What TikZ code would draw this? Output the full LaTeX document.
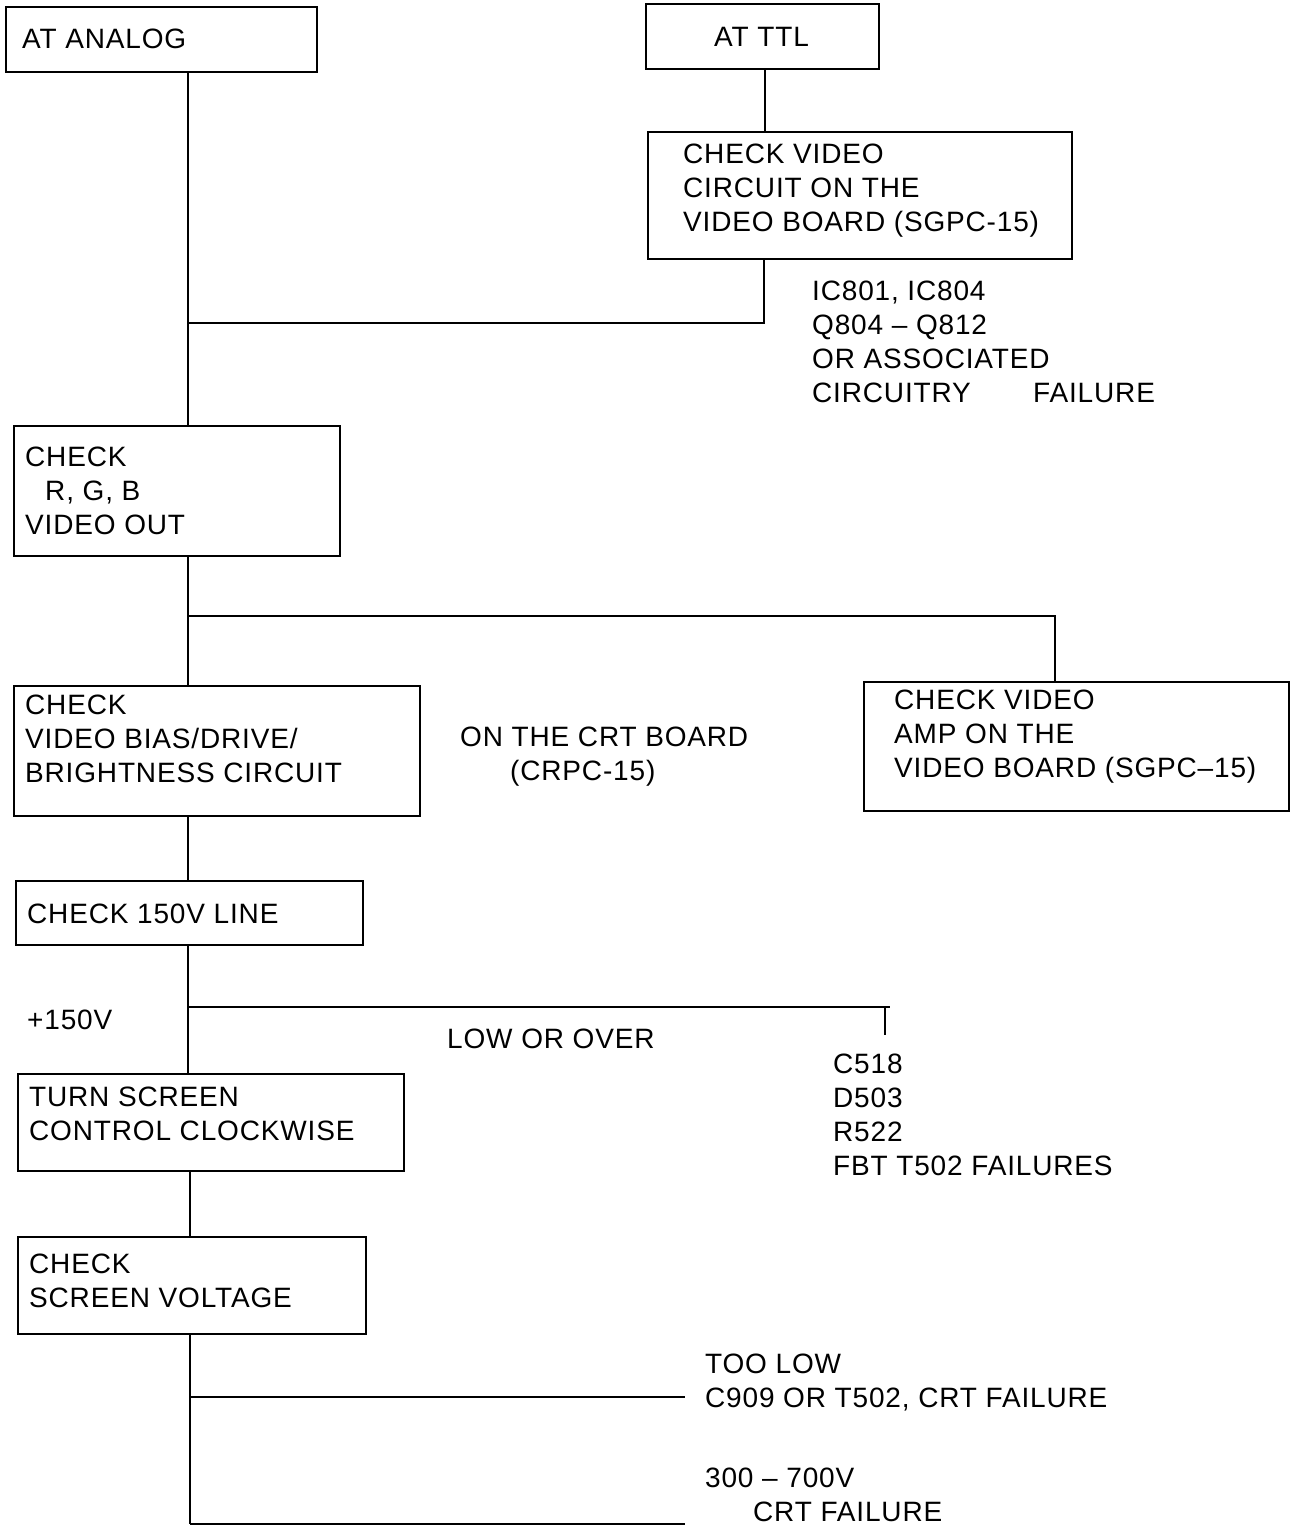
\documentclass[tikz,border=0pt]{standalone}
\usepackage{fontspec}
\setmainfont[LetterSpace=3]{Liberation Sans}
\begin{document}
\begin{tikzpicture}[x=1pt,y=-1pt,
  box/.style={draw, line width=1.6pt, inner sep=0pt, anchor=north west},
  txt/.style={inner sep=0pt, anchor=north west, align=left, font=\fontsize{28}{34}\selectfont},
  conn/.style={line width=1.6pt}]
\useasboundingbox (0,0) rectangle (1291,1527);
% boxes
\node[box, minimum width=311pt, minimum height=65pt] (analog) at (5,6) {};
\node[box, minimum width=233pt, minimum height=65pt] (ttl) at (645,3) {};
\node[box, minimum width=424pt, minimum height=127pt] (vcirc) at (647,131) {};
\node[box, minimum width=326pt, minimum height=130pt] (rgb) at (13,425) {};
\node[box, minimum width=406pt, minimum height=130pt] (bias) at (13,685) {};
\node[box, minimum width=425pt, minimum height=129pt] (amp) at (863,681) {};
\node[box, minimum width=347pt, minimum height=64pt] (v150) at (15,880) {};
\node[box, minimum width=386pt, minimum height=97pt] (turn) at (17,1073) {};
\node[box, minimum width=348pt, minimum height=97pt] (screen) at (17,1236) {};
% texts
\node[txt] (tanalog) at (22,24.2) {\strut AT ANALOG};
\node[txt] (tttl) at (714,22.2) {\strut AT TTL};
\node[txt] (tvcirc) at (683,139.2) {\strut CHECK VIDEO\\\strut CIRCUIT ON THE\\\strut VIDEO BOARD (SGPC-15)};
\node[txt] (tic) at (812,276.2) {\strut IC801, IC804\\\strut Q804 -- Q812\\\strut OR ASSOCIATED\\\strut \makebox[221pt][l]{CIRCUITRY}FAILURE};
\node[txt] (trgb) at (25,442.2) {\strut CHECK\\\strut\hspace*{20pt}R, G, B\\\strut VIDEO OUT};
\node[txt] (tbias) at (25,690.2) {\strut CHECK\\\strut VIDEO BIAS/DRIVE/\\\strut BRIGHTNESS CIRCUIT};
\node[txt] (tcrt) at (460,722.2) {\strut ON THE CRT BOARD\\\strut\hspace*{50pt}(CRPC-15)};
\node[txt] (tamp) at (894,685.2) {\strut CHECK VIDEO\\\strut AMP ON THE\\\strut VIDEO BOARD (SGPC--15)};
\node[txt] (tv150) at (27,899.2) {\strut CHECK 150V LINE};
\node[txt] (tplus) at (27,1005.2) {\strut +150V};
\node[txt] (tlow) at (447,1024.2) {\strut LOW OR OVER};
\node[txt] (tc518) at (833,1049.2) {\strut C518\\\strut D503\\\strut R522\\\strut FBT T502 FAILURES};
\node[txt] (tturn) at (29,1082.2) {\strut TURN SCREEN\\\strut CONTROL CLOCKWISE};
\node[txt] (tscreen) at (29,1249.2) {\strut CHECK\\\strut SCREEN VOLTAGE};
\node[txt] (ttoo) at (705,1349.2) {\strut TOO LOW\\\strut C909 OR T502, CRT FAILURE};
\node[txt] (t300) at (705,1463.2) {\strut 300 -- 700V\\\hspace*{48pt}CRT FAILURE};
% junction coordinates
\coordinate (xa) at (188,0);
\coordinate (xb) at (765,0);
\coordinate (xc) at (764,0);
\coordinate (xd) at (1055,0);
\coordinate (xe) at (190,0);
\coordinate (j1) at (188,323);
\coordinate (j2) at (188,616);
\coordinate (j3) at (188,1007);
\coordinate (tend) at (890,1007);
\coordinate (stub1) at (885,1007);
\coordinate (stub2) at (885,1035);
\coordinate (k1) at (190,1397);
\coordinate (k1e) at (685,1397);
\coordinate (k2) at (190,1524);
\coordinate (k2e) at (685,1524);
% connectors
\draw[conn] (analog.south -| xa) -- (rgb.north -| xa);
\draw[conn] (ttl.south -| xb) -- (vcirc.north -| xb);
\draw[conn] (vcirc.south -| xc) |- (j1);
\draw[conn] (rgb.south -| xa) -- (bias.north -| xa);
\draw[conn] (j2) -| (amp.north -| xd);
\draw[conn] (bias.south -| xa) -- (v150.north -| xa);
\draw[conn] (v150.south -| xa) -- (turn.north -| xa);
\draw[conn] (j3) -- (tend);
\draw[conn] (stub1) -- (stub2);
\draw[conn] (turn.south -| xe) -- (screen.north -| xe);
\draw[conn] (screen.south -| xe) -- (k2);
\draw[conn] (k1) -- (k1e);
\draw[conn] (k2) -- (k2e);
\end{tikzpicture}
\end{document}
